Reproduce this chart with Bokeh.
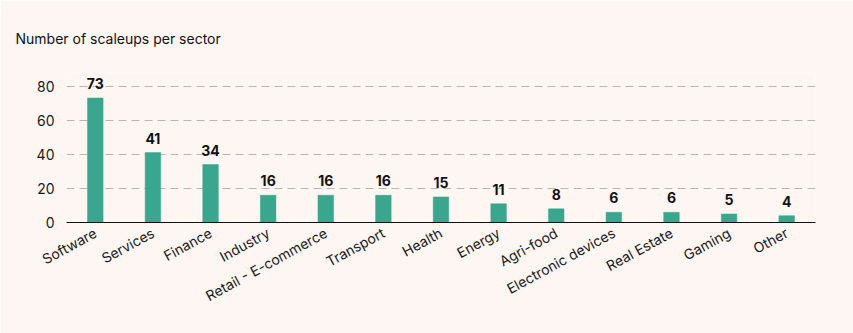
from bokeh.plotting import figure
from bokeh.models import ColumnDataSource, FactorRange, Range1d, FixedTicker
from bokeh.core.properties import value
from bokeh.embed import file_html
from bokeh.resources import INLINE

sectors = ["Software", "Services", "Finance", "Industry", "Retail - E-commerce", "Transport",
           "Health", "Energy", "Agri-food", "Electronic devices", "Real Estate", "Gaming", "Other"]
counts = [73, 41, 34, 16, 16, 16, 15, 11, 8, 6, 6, 5, 4]
y_ticks = [0, 20, 40, 60, 80]

BG = "#fdf6f3"
BAR = "#3aa68d"
FONT = "Inter"

src = ColumnDataSource(dict(x=sectors, y=counts, lab=[str(c) for c in counts]))

p = figure(width=853, height=333, x_range=FactorRange(*sectors, range_padding=0),
           y_range=Range1d(0, 88), output_backend="svg", toolbar_location=None,
           min_border_left=66, min_border_right=38, min_border_top=72, min_border_bottom=111,
           background_fill_color=BG, border_fill_color=BG, outline_line_color=None)
p.x_range.range_padding = 0

p.title.text = "Number of scaleups per sector"
p.title.text_font = FONT
p.title.text_font_size = "14px"
p.title.text_font_style = "normal"
p.title.text_color = "#111111"
p.title.offset = -51
p.title.standoff = 52

p.vbar(x="x", top="y", width=0.27, source=src, fill_color=BAR, line_color=BAR, line_width=0.5)
p.text(x="x", y="y", text="lab", source=src, text_align="center", text_baseline="bottom",
       y_offset=-9, text_font=value(FONT), text_font_size="14px", text_font_style="bold",
       text_color="#111111")

p.yaxis.ticker = FixedTicker(ticks=y_ticks)
p.yaxis.axis_line_color = None
p.yaxis.major_tick_line_color = None
p.yaxis.minor_tick_line_color = None
p.yaxis.major_label_text_font = FONT
p.yaxis.major_label_text_font_size = "14px"
p.yaxis.major_label_text_color = "#1a1a1a"
p.yaxis.major_label_standoff = 6

p.xaxis.axis_line_color = "#111111"
p.xaxis.axis_line_width = 1
p.xaxis.major_tick_line_color = None
p.xaxis.minor_tick_line_color = None
p.xaxis.major_label_orientation = 0.5
p.xaxis.major_label_text_font = FONT
p.xaxis.major_label_text_font_size = "14px"
p.xaxis.major_label_text_color = "#1a1a1a"
p.xaxis.major_label_standoff = 3

p.xgrid.grid_line_color = None
p.ygrid.grid_line_color = "#bdb5b2"
p.ygrid.grid_line_dash = "8 5"
p.ygrid.grid_line_width = 1

open("out.html", "w").write(file_html(p, INLINE))
